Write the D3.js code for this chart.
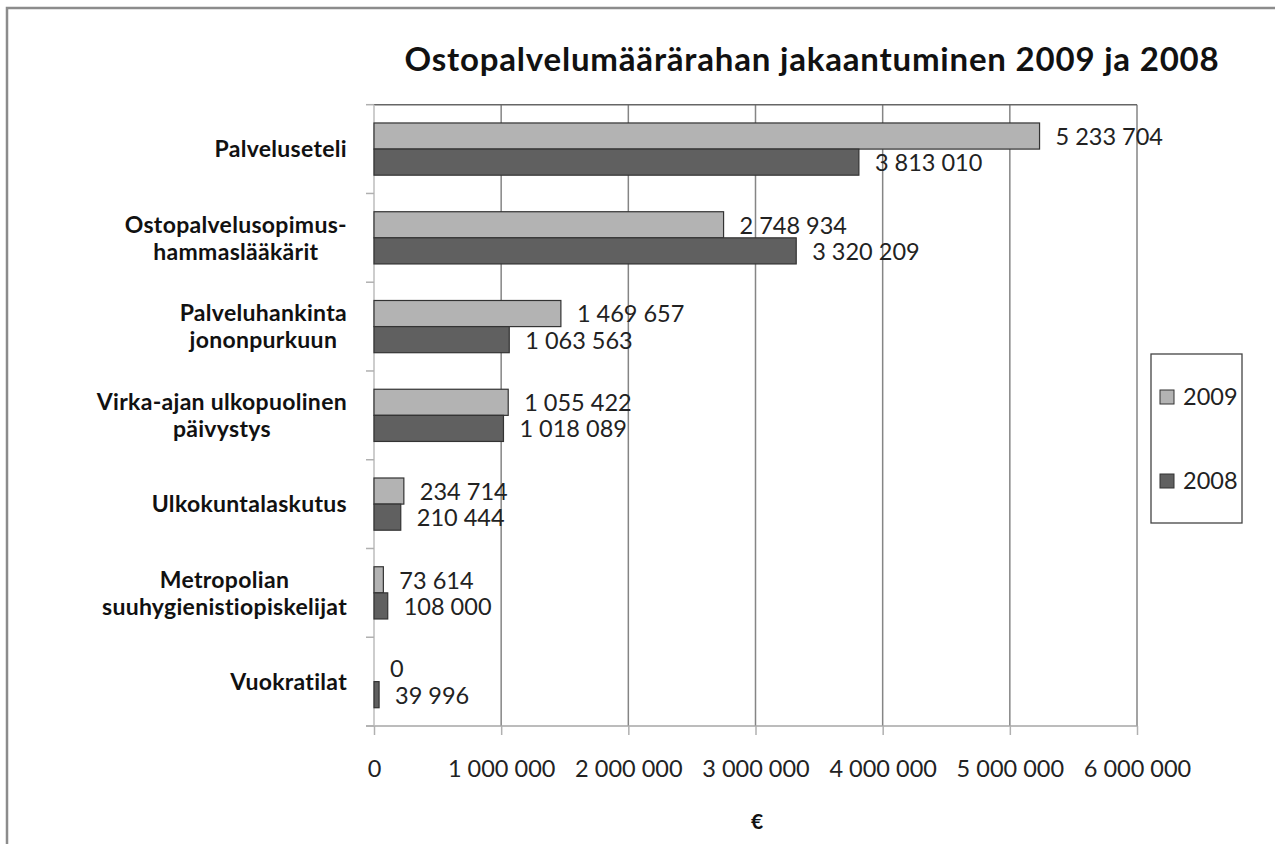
<!DOCTYPE html>
<html lang="fi">
<head>
<meta charset="utf-8">
<title>Ostopalvelumäärärahan jakaantuminen 2009 ja 2008</title>
<script src="https://cdn.jsdelivr.net/npm/d3@7"></script>
<style>
  body { margin: 0; background: #fff; }
  svg { font-family: Lato, "Open Sans", sans-serif; }
</style>
</head>
<body>
<script>
// data
var categories = ["Palveluseteli", "Ostopalvelusopimus-hammaslääkärit", "Palveluhankinta jononpurkuun",
                  "Virka-ajan ulkopuolinen päivystys", "Ulkokuntalaskutus",
                  "Metropolian suuhygienistiopiskelijat", "Vuokratilat"]
var catLines = [["Palveluseteli"], ["Ostopalvelusopimus-", "hammaslääkärit"], ["Palveluhankinta", "jononpurkuun"],
                ["Virka-ajan ulkopuolinen", "päivystys"], ["Ulkokuntalaskutus"],
                ["Metropolian", "suuhygienistiopiskelijat"], ["Vuokratilat"]]
var series = ["2009", "2008"]
var v2009 = [5233704, 2748934, 1469657, 1055422, 234714, 73614, 0]
var v2008 = [3813010, 3320209, 1063563, 1018089, 210444, 108000, 39996]
var xTicks = [0, 1000000, 2000000, 3000000, 4000000, 5000000, 6000000]
var colors = {"2009": "#b3b3b3", "2008": "#606060"}

var width = 1275, height = 844
var pLeft = 374, pRight = 1137, pTop = 104.7, pBottom = 726

var loc = d3.formatLocale({decimal: ",", thousands: " ", grouping: [3], currency: ["", " €"]})
var fmt = loc.format(",d")

var svg = d3.select("body").append("svg")
  .attr("width", width).attr("height", height)

// outer frame (only left and top edges show)
svg.append("rect")
  .attr("x", 7).attr("y", 8).attr("width", 1400).attr("height", 1000)
  .attr("fill", "none").attr("stroke", "#8c8c8c").attr("stroke-width", 2.5)

svg.append("text")
  .attr("x", 812).attr("y", 71)
  .attr("text-anchor", "middle")
  .attr("font-size", 33).attr("font-weight", "bold").attr("fill", "#111")
  .attr("letter-spacing", 0.8)
  .text("Ostopalvelumäärärahan jakaantuminen 2009 ja 2008")

var x = d3.scaleLinear().domain([0, 6000000]).range([pLeft, pRight])
var y = d3.scaleBand().domain(categories).range([pTop, pBottom])
var ys = d3.scaleBand().domain(series).range([0, y.bandwidth()]).paddingOuter(0.7)

// gridlines
svg.selectAll(".grid")
  .data(xTicks.slice(1))
  .enter().append("line")
  .attr("x1", function(d){ return x(d) }).attr("x2", function(d){ return x(d) })
  .attr("y1", pTop).attr("y2", pBottom)
  .attr("stroke", "#858585").attr("stroke-width", 1.5)

svg.append("line")
  .attr("x1", pLeft).attr("x2", pRight).attr("y1", pTop).attr("y2", pTop)
  .attr("stroke", "#666").attr("stroke-width", 1.5)

// x axis
var xAxis = d3.axisBottom(x).tickValues(xTicks).tickFormat(fmt).tickSize(9).tickPadding(25)
var gx = svg.append("g").attr("transform", "translate(0," + pBottom + ")").call(xAxis)
gx.select(".domain").attr("stroke", "#a6a6a6").attr("stroke-width", 1.5)
  .attr("d", "M" + (pLeft - 8) + ",0H" + pRight)
gx.selectAll(".tick line").attr("stroke", "#b0b0b0").attr("stroke-width", 1.5)
gx.selectAll(".tick text").attr("font-size", 23.5).attr("fill", "#222")
  .attr("font-family", "Lato, sans-serif")

// y axis line with ticks at the band edges
var edges = categories.map(function(c){ return y(c) }).concat([pBottom])
svg.append("line")
  .attr("x1", pLeft).attr("x2", pLeft).attr("y1", pTop).attr("y2", pBottom)
  .attr("stroke", "#bdbdbd").attr("stroke-width", 1.5)
svg.selectAll(".ytick")
  .data(edges)
  .enter().append("line")
  .attr("x1", pLeft - 8).attr("x2", pLeft)
  .attr("y1", function(d){ return d }).attr("y2", function(d){ return d })
  .attr("stroke", "#b0b0b0").attr("stroke-width", 1.5)

// bars
var rows = categories.map(function(c, i){
  return [{cat: c, s: "2009", v: v2009[i]}, {cat: c, s: "2008", v: v2008[i]}]
})
var g = svg.selectAll(".cat")
  .data(rows)
  .enter().append("g")
  .attr("transform", function(d){ return "translate(0," + y(d[0].cat) + ")" })

g.selectAll("rect")
  .data(function(d){ return d.filter(function(e){ return e.v > 0 }) })
  .enter().append("rect")
  .attr("x", pLeft)
  .attr("y", function(d){ return ys(d.s) })
  .attr("width", function(d){ return x(d.v) - pLeft })
  .attr("height", ys.bandwidth())
  .attr("fill", function(d){ return colors[d.s] })
  .attr("stroke", "#333").attr("stroke-width", 1.2)

g.selectAll(".val")
  .data(function(d){ return d })
  .enter().append("text")
  .attr("x", function(d){ return x(d.v) + 16 })
  .attr("y", function(d){ return ys(d.s) + ys.bandwidth() / 2 })
  .attr("dy", "0.38em")
  .attr("font-size", 23.5).attr("fill", "#222")
  .text(function(d){ return fmt(d.v) })

// category labels: block right-aligned, lines centred inside it
catLines.forEach(function(lines, i){
  var cy = y(categories[i]) + y.bandwidth() / 2
  var lh = 27
  var t = svg.append("text")
    .attr("font-size", 23).attr("font-weight", "bold").attr("fill", "#111")
    .attr("letter-spacing", 0.3)
    .attr("text-anchor", "middle")
  var spans = lines.map(function(l, j){
    return t.append("tspan")
      .attr("y", cy + (j - (lines.length - 1) / 2) * lh)
      .attr("dy", "0.36em")
      .text(l)
  })
  var maxW = d3.max(spans, function(s){ return s.node().getComputedTextLength() })
  spans.forEach(function(s){ s.attr("x", 347 - maxW / 2) })
})

// axis title
svg.append("text")
  .attr("x", 757).attr("y", 822).attr("dy", "0.35em")
  .attr("text-anchor", "middle")
  .attr("font-size", 21).attr("font-weight", "bold").attr("fill", "#111")
  .text("€")

// legend
var leg = svg.append("g")
leg.append("rect")
  .attr("x", 1151).attr("y", 354).attr("width", 91).attr("height", 169)
  .attr("fill", "#fff").attr("stroke", "#444").attr("stroke-width", 1.3)
var legY = d3.scalePoint().domain(series).range([397, 481])
var li = leg.selectAll(".li")
  .data(series)
  .enter().append("g")
  .attr("transform", function(d){ return "translate(0," + legY(d) + ")" })
li.append("rect")
  .attr("x", 1160).attr("y", -7).attr("width", 14).attr("height", 14)
  .attr("fill", function(d){ return colors[d] })
  .attr("stroke", "#333").attr("stroke-width", 1)
li.append("text")
  .attr("x", 1183).attr("dy", "0.36em")
  .attr("font-size", 23.5).attr("fill", "#222")
  .text(function(d){ return d })
</script>
</body>
</html>
